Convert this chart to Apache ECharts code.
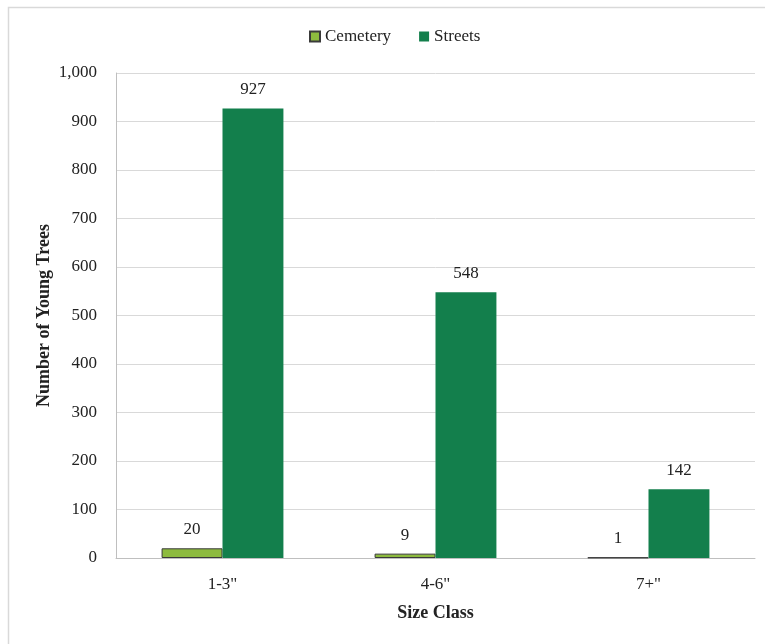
<!DOCTYPE html>
<html>
<head>
<meta charset="utf-8">
<script src="https://cdn.jsdelivr.net/npm/echarts@6/dist/echarts.min.js"></script>
<style>
  html, body { margin: 0; padding: 0; background: #fff; }
  #chart { width: 765px; height: 644px; }
</style>
</head>
<body>
<div id="chart"></div>
<script>
// Young tree counts by trunk size class
const sizeClasses = ['1-3"', '4-6"', '7+"'];
const cemetery = [20, 9, 1];
const streets = [927, 548, 142];

const FONT = '"Palatino Linotype", "Book Antiqua", Palatino, "Liberation Serif", "DejaVu Serif", serif';

const chart = echarts.init(document.getElementById('chart'), null, { renderer: 'canvas' });

chart.setOption({
  animation: false,
  textStyle: { fontFamily: FONT, color: '#222' },
  graphic: [{
    type: 'rect',
    left: 6, top: 5,
    shape: { width: 820, height: 720 },
    style: { fill: 'none', stroke: '#d9d9d9', lineWidth: 1.5 },
    silent: true,
    z: -1
  }],
  legend: {
    top: 23,
    left: 304,
    icon: 'rect',
    itemWidth: 10,
    itemHeight: 10,
    itemGap: 28,
    textStyle: { fontFamily: FONT, fontSize: 17, color: '#222' },
    data: ['Cemetery', 'Streets']
  },
  grid: { left: 116, right: 10, top: 73, bottom: 86 },
  xAxis: {
    type: 'category',
    data: sizeClasses,
    name: 'Size Class',
    nameLocation: 'middle',
    nameGap: 46,
    nameMoveOverlap: false,
    nameTextStyle: { fontFamily: FONT, fontSize: 18, fontWeight: 'bold', color: '#222' },
    axisLine: { lineStyle: { color: '#bfbfbf', width: 1 } },
    axisTick: { show: false },
    axisLabel: { fontFamily: FONT, fontSize: 17, color: '#222', margin: 18 }
  },
  yAxis: {
    type: 'value',
    min: 0, max: 1000, interval: 100,
    name: 'Number of Young Trees',
    nameLocation: 'middle',
    nameGap: 63,
    nameMoveOverlap: false,
    nameTextStyle: { fontFamily: FONT, fontSize: 18, fontWeight: 'bold', color: '#222' },
    axisLine: { show: true, lineStyle: { color: '#bfbfbf', width: 1 } },
    axisTick: { show: false },
    splitLine: { lineStyle: { color: '#d9d9d9', width: 1 } },
    axisLabel: {
      fontFamily: FONT, fontSize: 17, color: '#222', margin: 19,
      formatter: v => v.toLocaleString('en-US')
    }
  },
  series: [
    {
      name: 'Cemetery',
      type: 'bar',
      data: cemetery,
      barWidth: '28.6%',
      barGap: '0%',
      itemStyle: { color: '#8dbb3e', borderColor: '#3a3a3a', borderWidth: 1 },
      label: { show: true, position: 'top', distance: 10, fontFamily: FONT, fontSize: 17, color: '#222' }
    },
    {
      name: 'Streets',
      type: 'bar',
      data: streets,
      barWidth: '28.6%',
      itemStyle: { color: '#137f4c' },
      label: { show: true, position: 'top', distance: 10, fontFamily: FONT, fontSize: 17, color: '#222' }
    }
  ]
});
</script>
</body>
</html>
